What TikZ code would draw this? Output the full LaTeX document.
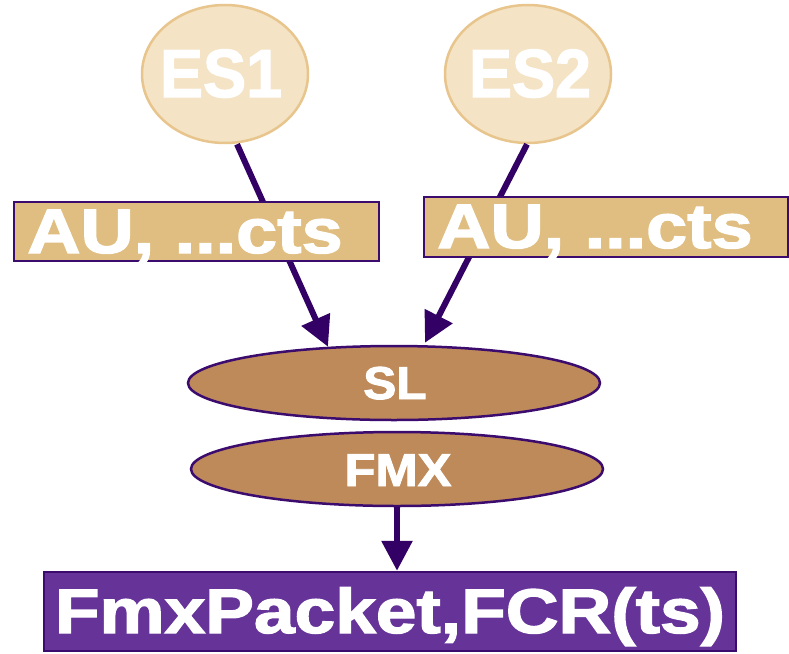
\documentclass[tikz,border=0pt]{standalone}
\usepackage{fontspec}
\setmainfont{Liberation Sans}
\newfontfamily\heavyfont[FakeBold=2]{Liberation Sans Bold}
\usetikzlibrary{shapes.geometric,arrows.meta}
\definecolor{esfill}{HTML}{F5E3C5}
\definecolor{esdraw}{HTML}{E8C58C}
\definecolor{aufill}{HTML}{E0BD80}
\definecolor{pdark}{HTML}{3B0B6E}
\definecolor{arrcol}{HTML}{330066}
\definecolor{slfill}{HTML}{BE8A5A}
\definecolor{pkfill}{HTML}{663399}
\tikzset{
  esnode/.style={ellipse, draw=esdraw, fill=esfill, line width=2.5pt, minimum width=166pt, minimum height=138pt, inner sep=0pt},
  aubox/.style={rectangle, draw=pdark, fill=aufill, line width=2.5pt, inner sep=0pt},
  layer/.style={ellipse, draw=pdark, fill=slfill, line width=2.5pt, minimum width=412pt, minimum height=74pt, inner sep=0pt},
  pkbox/.style={rectangle, draw=pdark, fill=pkfill, line width=2.5pt, inner sep=0pt, minimum width=692pt, minimum height=79pt},
  wtxt/.style={text=white, inner sep=0pt, anchor=base},
  arr/.style={draw=arrcol, line width=6pt, -{Triangle[length=30pt,width=30pt]}}
}
\begin{document}
\begin{tikzpicture}[x=1pt,y=-1pt]
\useasboundingbox (0,0) rectangle (789,653);
\node[esnode] (es1) at (225,74) {};
\node[esnode] (es2) at (528,74) {};
\node[wtxt, font=\fontsize{68}{68}\heavyfont] (es1t) at (221,97) {\scalebox{0.95}[1]{ES1}};
\node[wtxt, font=\fontsize{68}{68}\heavyfont] (es2t) at (530,97) {\scalebox{0.95}[1]{ES2}};
\node[layer] (sl) at (394,383) {};
\node[layer] (fmx) at (397,469) {};
\node[wtxt, font=\fontsize{46}{46}\heavyfont] (slt) at (395,399) {\scalebox{1.08}[1]{SL}};
\node[wtxt, font=\fontsize{46}{46}\heavyfont] (fmxt) at (398,486) {\scalebox{1.1}[1]{FMX}};
\node[pkbox] (pk) at (390,611.5) {};
\node[wtxt, font=\fontsize{63}{63}\heavyfont] (pkt) at (390,633) {\scalebox{1.16}[1]{FmxPacket,FCR(ts)}};
\draw[arr] ([xshift=12pt]es1.south) -- ([xshift=-66pt,yshift=-2pt]sl.north);
\draw[arr] ([xshift=-1pt]es2.south) -- ([xshift=31pt,yshift=2pt]sl.north);
\draw[arr] (fmx.south) -- (fmx.south |- pk.north);
\node[aubox, minimum width=365pt, minimum height=59pt] (au1) at (196.5,231.5) {};
\node[aubox, minimum width=364pt, minimum height=60pt] (au2) at (606,227) {};
\node[wtxt, font=\fontsize{63}{63}\heavyfont] (au1t) at (185,253) {\scalebox{1.17}[1]{AU, ...cts}};
\node[wtxt, font=\fontsize{63}{63}\heavyfont] (au2t) at (595,248) {\scalebox{1.17}[1]{AU, ...cts}};
\end{tikzpicture}
\end{document}
